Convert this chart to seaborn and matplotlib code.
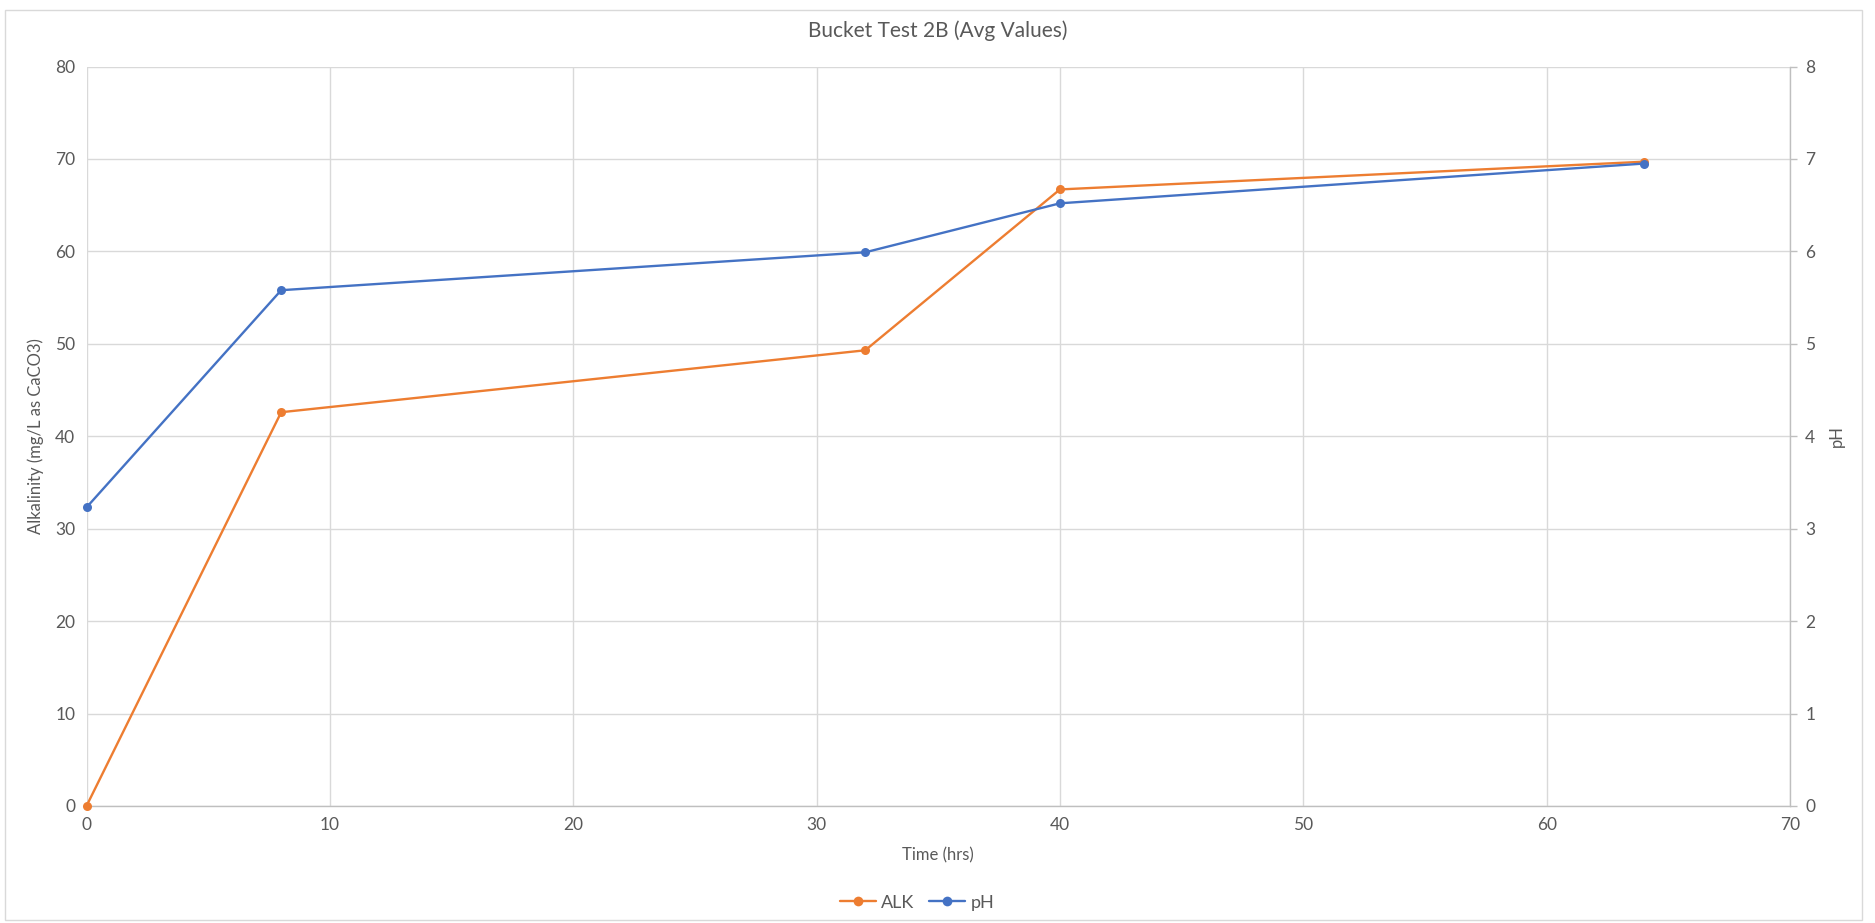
import matplotlib
matplotlib.use("Agg")
import matplotlib.pyplot as plt
from matplotlib.lines import Line2D
from matplotlib.patches import Rectangle
import seaborn as sns
import pandas as pd

# Bucket test 2B averaged measurements
time_hrs = [0, 8, 32, 40, 64]
alk_values = [0.0, 42.6, 49.3, 66.7, 69.7]
ph_values = [3.23, 5.58, 5.99, 6.52, 6.95]

alk_color = "#ED7D31"
ph_color = "#4472C4"
text_color = "#595959"
grid_color = "#D9D9D9"
axis_color = "#BFBFBF"

sns.set_theme(style="white")
plt.rcParams["font.family"] = ["Lato", "DejaVu Sans"]

df = pd.DataFrame({"Time": time_hrs, "ALK": alk_values, "pH": ph_values})

fig = plt.figure(figsize=(18.75, 9.23), dpi=100)
ax = fig.add_axes([86.5 / 1875, 1 - 806 / 923, (1790 - 86.5) / 1875, (806 - 66.5) / 923])
ax2 = ax.twinx()

sns.lineplot(data=df, x="Time", y="ALK", ax=ax, color=alk_color, linewidth=1.7,
             marker="o", markersize=6.5, markeredgewidth=0, clip_on=False, zorder=3)
sns.lineplot(data=df, x="Time", y="pH", ax=ax2, color=ph_color, linewidth=1.7,
             marker="o", markersize=6.5, markeredgewidth=0, clip_on=False, zorder=3)

ax.set_xlim(0, 70)
ax.set_ylim(0, 80)
ax2.set_ylim(0, 8)
ax.set_xticks(range(0, 71, 10))
ax.set_yticks(range(0, 81, 10))
ax2.set_yticks(range(0, 9, 1))

ax.grid(True, color=grid_color, linewidth=1.0)
ax.set_axisbelow(True)
ax2.grid(False)

for a in (ax, ax2):
    for s in a.spines.values():
        s.set_visible(False)
ax.spines["bottom"].set_visible(True)
ax.spines["bottom"].set_color(axis_color)
ax.spines["bottom"].set_linewidth(1.0)
ax2.spines["right"].set_visible(True)
ax2.spines["right"].set_color(axis_color)
ax2.spines["right"].set_linewidth(1.0)

ax.tick_params(axis="both", which="both", length=0, labelsize=12.5,
               labelcolor=text_color, pad=8)
ax2.tick_params(axis="y", length=5, width=1, color=axis_color, labelsize=12.5,
                labelcolor=text_color, pad=6)

ax.set_xlabel("Time (hrs)", fontsize=12, color=text_color, labelpad=10)
ax.set_ylabel("Alkalinity (mg/L as CaCO3)", fontsize=12, color=text_color, labelpad=8)
ax2.set_ylabel("pH", fontsize=12, color=text_color, rotation=90, labelpad=10)

fig.suptitle("Bucket Test 2B (Avg Values)", x=0.5, y=0.978, fontsize=15, color=text_color)

handles = [
    Line2D([0], [0], color=alk_color, lw=1.7, marker="o", markersize=7, markeredgewidth=0),
    Line2D([0], [0], color=ph_color, lw=1.7, marker="o", markersize=7, markeredgewidth=0),
]
leg = fig.legend(handles, ["ALK", "pH"], loc="center", bbox_to_anchor=(0.489, 0.022),
                 ncol=2, frameon=False, fontsize=13, handlelength=2.0,
                 handletextpad=0.3, columnspacing=0.8)
for t in leg.get_texts():
    t.set_color(text_color)

fig.patches.append(Rectangle((5 / 1875, 3 / 923), (1862 - 5) / 1875, (917 - 7) / 923,
                             transform=fig.transFigure, fill=False,
                             edgecolor=grid_color, linewidth=1.0))

fig.savefig("out.png", dpi=100)
